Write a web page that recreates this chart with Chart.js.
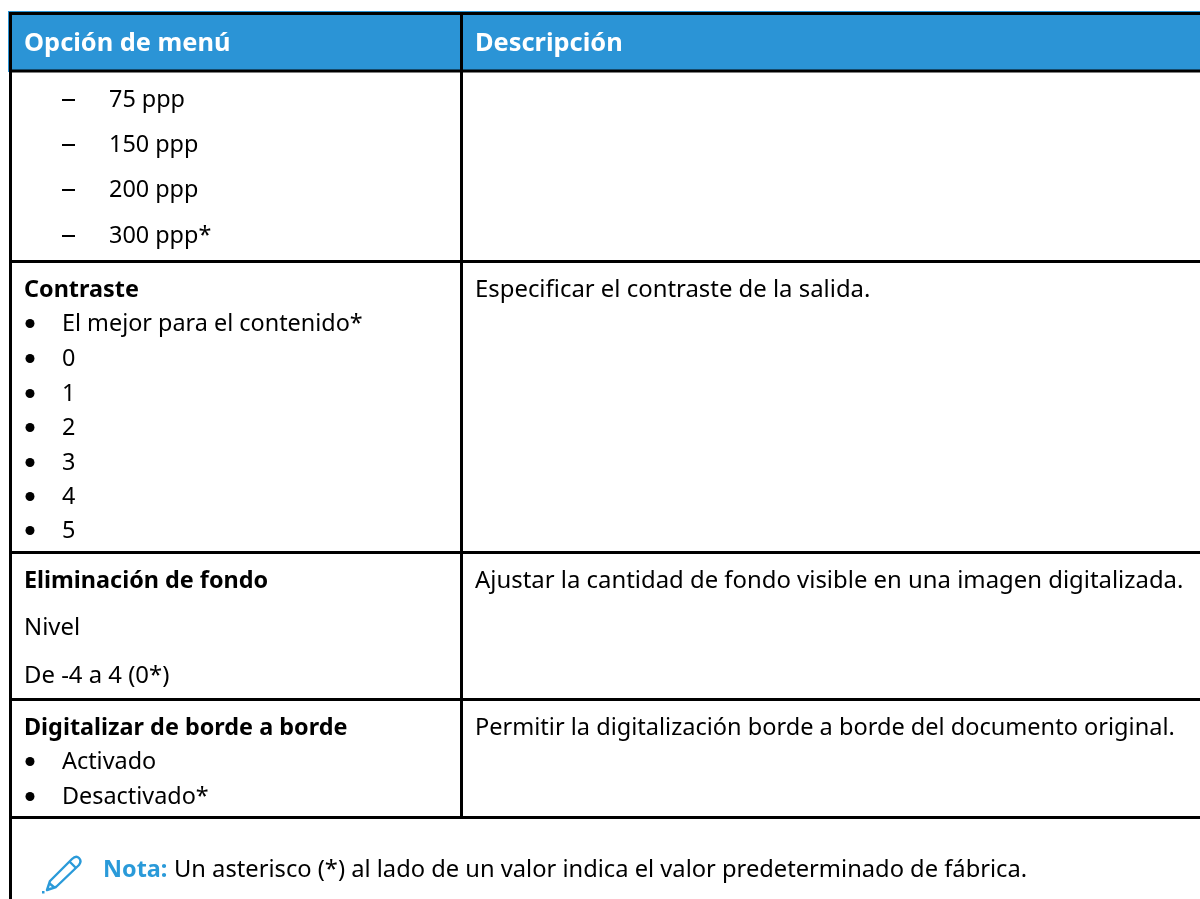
<!DOCTYPE html>
<html lang="es">
<head>
    <meta charset="UTF-8">
    <title>Opción de menú</title>
    <script src="https://cdn.jsdelivr.net/npm/chart.js"></script>
    <style>
        html, body { margin: 0; padding: 0; background: #fff; }
        canvas { display: block; }
    </style>
</head>
<body>
    <canvas id="tableChart" width="1200" height="899"></canvas>
    <script>
        // table text
        const headers = ['Opción de menú', 'Descripción'];
        const resolutionOptions = ['75 ppp', '150 ppp', '200 ppp', '300 ppp*'];
        const contrastOptions = ['El mejor para el contenido*', '0', '1', '2', '3', '4', '5'];
        const edgeOptions = ['Activado', 'Desactivado*'];
        const rowTitles = ['Contraste', 'Eliminación de fondo', 'Digitalizar de borde a borde'];
        const backgroundLines = ['Nivel', 'De -4 a 4 (0*)'];
        const descriptions = [
            'Especificar el contraste de la salida.',
            'Ajustar la cantidad de fondo visible en una imagen digitalizada.',
            'Permitir la digitalización borde a borde del documento original.'
        ];
        const noteLabel = 'Nota:';
        const noteText = 'Un asterisco (*) al lado de un valor indica el valor predeterminado de fábrica.';

        // the axes run in page pixels, so these are read straight off the picture
        const headerY = 51;
        const resolutionY = [107, 152, 197, 243];
        const contrastY = [331, 366, 401, 435, 470, 504, 538];
        const edgeY = [769, 804];
        const titleY = [297, 588, 735];
        const backgroundY = [635, 683];
        const noteY = 877;
        const rowRules = [13.5, 71, 261.5, 552.5, 699.5, 817.5];

        const BLUE = '#2b94d6';
        const NOTE_BLUE = '#2a9ad9';
        const FONT = '"Noto Sans"';
        const listFont = '23.4px ' + FONT;
        const descFont = '23.9px ' + FONT;
        const lastDescFont = '23.55px ' + FONT;
        const noteFont = '23.7px ' + FONT;
        const titleFont = 'bold 23.4px ' + FONT;
        const headerFont = 'bold 25.4px ' + FONT;

        function textSet(items, font, color) {
            return { data: items, textFont: font, textColor: color, pointRadius: 0, showLine: false };
        }

        function rule(x1, y1, x2, y2) {
            return {
                data: [{ x: x1, y: y1 }, { x: x2, y: y2 }],
                showLine: true, borderColor: '#000', borderWidth: 3, pointRadius: 0, order: 1
            };
        }

        function pencilIcon() {
            const c = document.createElement('canvas');
            c.width = 44;
            c.height = 44;
            const g = c.getContext('2d');
            g.strokeStyle = NOTE_BLUE;
            g.fillStyle = NOTE_BLUE;
            g.lineWidth = 2.4;
            g.lineJoin = 'round';
            g.beginPath();
            g.moveTo(6, 36);
            g.lineTo(9, 27);
            g.lineTo(31, 5);
            g.quadraticCurveTo(35, 1, 38, 4);
            g.quadraticCurveTo(41, 7, 38, 11);
            g.lineTo(15, 33);
            g.closePath();
            g.moveTo(8, 29);
            g.lineTo(14, 34);
            g.moveTo(29, 8);
            g.lineTo(35, 14);
            g.stroke();
            g.fillRect(1, 37, 2.5, 2.5);
            return c;
        }

        const datasets = [
            // header band
            {
                data: [{ x: 8, y: 11 }, { x: 1200, y: 11 }],
                showLine: true, borderWidth: 0, pointRadius: 0,
                fill: { value: 72 }, backgroundColor: BLUE, order: 2
            },
            // table rules
            ...rowRules.map(y => rule(9, y, 1200, y)),
            rule(10.5, 12, 10.5, 899),
            rule(461.5, 12, 461.5, 818),
            // markers
            {
                data: resolutionY.map(y => ({ x: 68.5, y: y - 7 })),
                pointStyle: 'line', pointRadius: 6.5, borderColor: '#000', borderWidth: 2, showLine: false
            },
            {
                data: contrastY.concat(edgeY).map(y => ({ x: 30, y: y - 7.5 })),
                pointStyle: 'circle', pointRadius: 4.5, backgroundColor: '#000', borderWidth: 0, showLine: false
            },
            {
                data: [{ x: 63, y: 876 }],
                pointStyle: pencilIcon(), showLine: false
            },
            // text
            textSet([{ x: 24, y: headerY, text: headers[0] }, { x: 475, y: headerY, text: headers[1] }], headerFont, '#fff'),
            textSet(resolutionOptions.map((text, i) => ({ x: 109, y: resolutionY[i], text })), listFont, '#000'),
            textSet(contrastOptions.map((text, i) => ({ x: 62, y: contrastY[i], text })), listFont, '#000'),
            textSet(edgeOptions.map((text, i) => ({ x: 62, y: edgeY[i], text })), listFont, '#000'),
            textSet(rowTitles.map((text, i) => ({ x: 24, y: titleY[i], text })), titleFont, '#000'),
            textSet(backgroundLines.map((text, i) => ({ x: 24, y: backgroundY[i], text })), descFont, '#000'),
            textSet(descriptions.slice(0, 2).map((text, i) => ({ x: 475, y: titleY[i], text })), descFont, '#000'),
            textSet([{ x: 475, y: titleY[2], text: descriptions[2] }], lastDescFont, '#000'),
            textSet([{ x: 103, y: noteY, text: noteLabel }], titleFont, NOTE_BLUE),
            textSet([{ x: 174, y: noteY, text: noteText }], noteFont, '#000')
        ];

        const pointText = {
            id: 'pointText',
            afterDatasetsDraw(chart) {
                const ctx = chart.ctx;
                chart.data.datasets.forEach((ds, i) => {
                    if (!ds.textFont) return;
                    ctx.save();
                    ctx.font = ds.textFont;
                    ctx.fillStyle = ds.textColor;
                    ctx.textBaseline = 'alphabetic';
                    chart.getDatasetMeta(i).data.forEach((el, j) => {
                        ctx.fillText(ds.data[j].text, el.x, el.y);
                    });
                    ctx.restore();
                });
            }
        };

        new Chart(document.getElementById('tableChart'), {
            type: 'scatter',
            data: { datasets },
            plugins: [pointText],
            options: {
                responsive: false,
                animation: false,
                events: [],
                layout: { padding: 0, autoPadding: false },
                plugins: { legend: { display: false }, tooltip: { enabled: false } },
                scales: {
                    x: { type: 'linear', display: false, min: 0, max: 1200 },
                    y: { type: 'linear', display: false, min: 0, max: 899, reverse: true }
                }
            }
        });
    </script>
</body>
</html>
